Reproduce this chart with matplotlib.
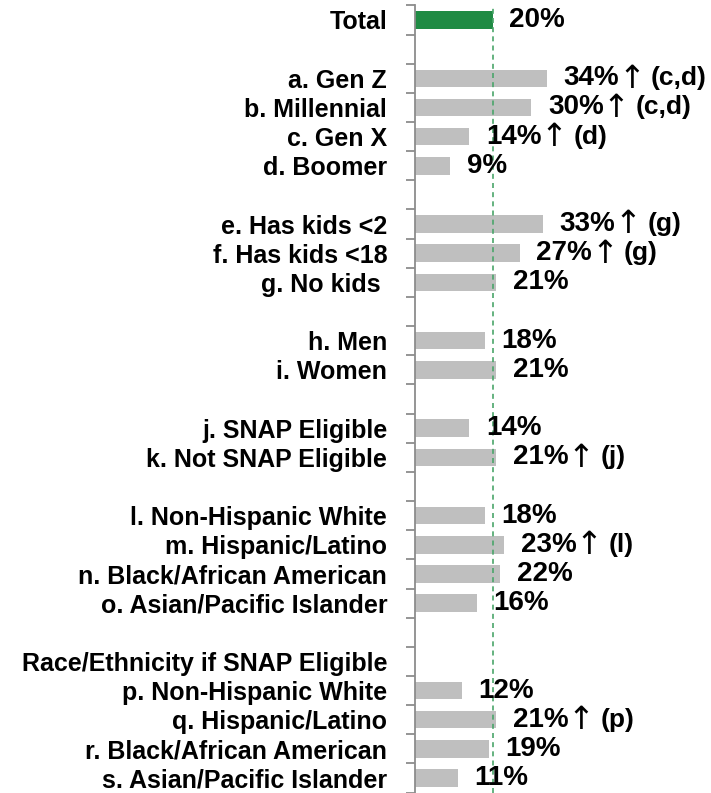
import numpy as np
import matplotlib
matplotlib.use("Agg")
import matplotlib.pyplot as plt

labels = ["Total", "",
          "a. Gen Z", "b. Millennial", "c. Gen X", "d. Boomer", "",
          "e. Has kids <2", "f. Has kids <18", "g. No kids ", "",
          "h. Men", "i. Women", "",
          "j. SNAP Eligible", "k. Not SNAP Eligible", "",
          "l. Non-Hispanic White", "m. Hispanic/Latino", "n. Black/African American",
          "o. Asian/Pacific Islander", "",
          "Race/Ethnicity if SNAP Eligible",
          "p. Non-Hispanic White", "q. Hispanic/Latino", "r. Black/African American",
          "s. Asian/Pacific Islander"]
values = [20, None,
          34, 30, 14, 9, None,
          33, 27, 21, None,
          18, 21, None,
          14, 21, None,
          18, 23, 22, 16, None,
          None,
          12, 21, 19, 11]
# letters of the groups each value is significantly higher than
sig = ["", "",
       "(c,d)", "(c,d)", "(d)", "", "",
       "(g)", "(g)", "", "",
       "", "", "",
       "", "(j)", "",
       "", "(l)", "", "", "",
       "",
       "", "(p)", "", ""]
total_value = 20

FONT = ["Liberation Sans", "DejaVu Sans"]
plt.rcParams["font.family"] = FONT
FS = 18       # category labels
FS_VAL = 20   # value labels

W, H = 711, 793
fig = plt.figure(figsize=(W / 100, H / 100), dpi=100)
ax_left, ax_top, ax_bot = 415, 5.4, 792.6
ax = fig.add_axes([ax_left / W, 1 - ax_bot / H, (W - ax_left) / W, (ax_bot - ax_top) / H])

n = len(labels)
y = np.arange(n)
px_per_pct = 3.88
ax.set_xlim(0, (W - ax_left) / px_per_pct)
ax.set_ylim(n - 0.5, -0.5)

for i, v in enumerate(values):
    if v is None:
        continue
    col = "#1f8b44" if i == 0 else "#bfbfbf"
    ax.barh(i, v, height=0.6, color=col, zorder=2)

ax.axvline(total_value, color="#4aa56a", lw=1.2, ls=(0, (3, 2.5)), zorder=3)

fig.canvas.draw()
rend = fig.canvas.get_renderer()
inv = ax.transData.inverted()


def right_edge(t, gap=0):
    bb = t.get_window_extent(rend)
    return inv.transform((bb.x1 + gap, 0))[0]


for i, v in enumerate(values):
    if v is None:
        continue
    t = ax.annotate(f"{v}%", (v, i), xytext=(12, 0), textcoords="offset points",
                    ha="left", va="center", fontsize=FS_VAL, fontweight="bold", zorder=4)
    if sig[i]:
        a = ax.text(right_edge(t, -1), i + 0.03, "↑", ha="left", va="center",
                    fontsize=FS_VAL + 3, family="DejaVu Sans", zorder=4)
        ax.text(right_edge(a, 6), i, sig[i], ha="left", va="center", fontsize=FS_VAL - 1,
                fontweight="bold", zorder=4)

for s in ["top", "right", "bottom"]:
    ax.spines[s].set_visible(False)
ax.spines["left"].set_color("#8c8c8c")
ax.spines["left"].set_linewidth(1.3)
ax.set_xticks([])
ax.set_yticks(y)
ax.set_yticklabels(labels, fontsize=FS, fontweight="bold")
ax.tick_params(axis="y", which="major", length=0, pad=20)
ax.set_yticks(np.arange(-0.5, n, 1.0), minor=True)
ax.tick_params(axis="y", which="minor", length=6.5, width=1.3, color="#8c8c8c")

fig.savefig("out.png", dpi=100)
